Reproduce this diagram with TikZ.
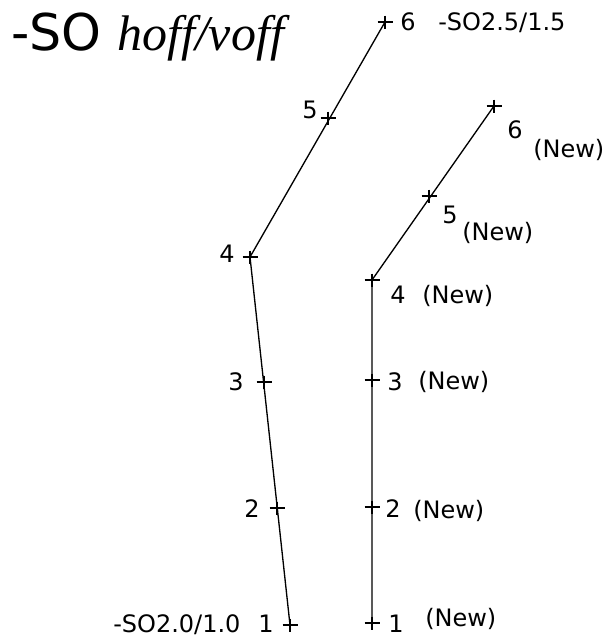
\documentclass[tikz,border=0pt]{standalone}
\usepackage{fontspec}
\setmainfont{DejaVu Sans}
\newfontfamily\tms{Liberation Serif}
\begin{document}
\begin{tikzpicture}[x=0.75pt,y=-0.75pt,
  lbl/.style={inner sep=0pt,font=\fontsize{18}{21}\selectfont},
  cline/.style={line width=1pt,black},
  pluscross/.pic={\draw[line width=1pt] (-7.5,0) -- (7.5,0) (0,-6.5) -- (0,6.5);}]
\useasboundingbox (0,0) rectangle (608,639);
% title
\node[inner sep=0pt,anchor=base west,font=\fontsize{38}{42}\selectfont] (t1) at (11,50) {-SO};
\node[inner sep=0pt,anchor=base west,font=\fontsize{37.5}{42}\selectfont\tms\itshape] (t2) at (117,50) {hoff/voff};
% left curve points
\coordinate (p1) at (290,625);
\coordinate (p2) at (277,508);
\coordinate (p3) at (264,382);
\coordinate (p4) at (250,257);
\coordinate (p5) at (328,118);
\coordinate (p6) at (385,22);
% right curve points
\coordinate (r1) at (372,623);
\coordinate (r2) at (372,507);
\coordinate (r3) at (372,380);
\coordinate (r4) at (372,280);
\coordinate (r5) at (429,196);
\coordinate (r6) at (494,106);
\draw[cline] (p1) -- (p4) -- (p6);
\draw[cline] (r1) -- (r4) -- (r6);
\foreach \p in {p1,p2,p3,p4,p5,p6,r1,r2,r3,r4,r5,r6} \pic at (\p) {pluscross};
% left labels
\node[lbl,anchor=base] (l6) at (408,31) {6};
\node[lbl,anchor=base west] (l6n) at (438,30) {-SO2.5/1.5};
\node[lbl,anchor=base] (l5) at (310,118) {5};
\node[lbl,anchor=base] (l4) at (227,262) {4};
\node[lbl,anchor=base] (l3) at (236,390) {3};
\node[lbl,anchor=base] (l2) at (252,517) {2};
\node[lbl,anchor=base] (l1) at (266,632) {1};
\node[lbl,anchor=base west] (l1n) at (113,632) {-SO2.0/1.0};
% right labels
\node[lbl,anchor=base] (q6) at (515,138) {6};
\node[lbl,anchor=base west] (q6n) at (533,157) {(New)};
\node[lbl,anchor=base] (q5) at (450,223) {5};
\node[lbl,anchor=base west] (q5n) at (462,240) {(New)};
\node[lbl,anchor=base] (q4) at (398,303) {4};
\node[lbl,anchor=base west] (q4n) at (422,303) {(New)};
\node[lbl,anchor=base] (q3) at (395,390) {3};
\node[lbl,anchor=base west] (q3n) at (418,389) {(New)};
\node[lbl,anchor=base] (q2) at (393,517) {2};
\node[lbl,anchor=base west] (q2n) at (413,518) {(New)};
\node[lbl,anchor=base] (q1) at (396,632) {1};
\node[lbl,anchor=base west] (q1n) at (425,626) {(New)};
\end{tikzpicture}
\end{document}
